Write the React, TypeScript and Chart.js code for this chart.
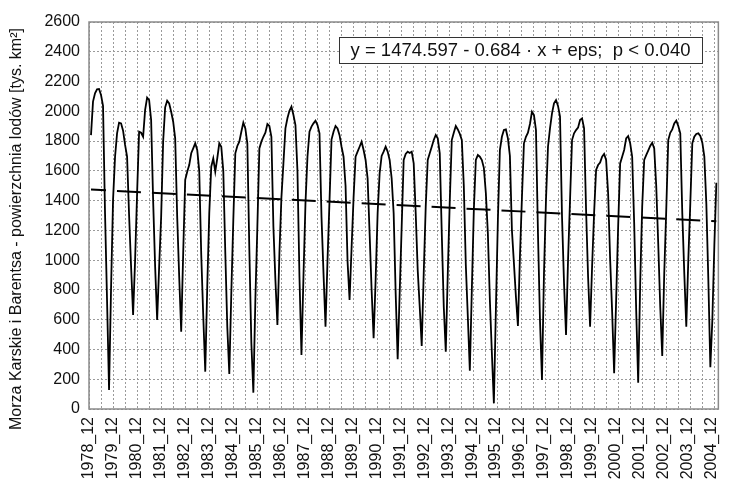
import { useEffect, useRef } from 'react';
import { Chart, registerables } from 'chart.js';

Chart.register(...registerables);

// Ice area [thousand km²], monthly, starting December 1978
const dec1978 = [1840];
const ice1979 = [2065, 2121, 2148, 2150, 2109, 2036, 1315, 732, 128, 808, 1405, 1695];
const ice1980 = [1852, 1924, 1919, 1870, 1774, 1695, 1303, 956, 632, 1000, 1450, 1863];
const ice1981 = [1856, 1829, 2009, 2092, 2076, 1942, 1400, 956, 598, 956, 1292, 1800];
const ice1982 = [2027, 2071, 2053, 1997, 1930, 1818, 1292, 889, 519, 1050, 1540, 1594];
const ice1983 = [1639, 1718, 1751, 1785, 1740, 1600, 1037, 625, 251, 822, 1315, 1628];
const ice1984 = [1684, 1594, 1684, 1785, 1762, 1600, 1050, 550, 235, 777, 1270, 1718];
const ice1985 = [1767, 1796, 1863, 1924, 1885, 1785, 1068, 443, 110, 732, 1225, 1751];
const ice1986 = [1796, 1829, 1856, 1915, 1901, 1829, 1225, 867, 564, 1046, 1420, 1650];
const ice1987 = [1885, 1953, 2003, 2031, 1975, 1908, 1600, 889, 363, 889, 1380, 1695];
const ice1988 = [1863, 1897, 1919, 1937, 1908, 1852, 1290, 911, 553, 1000, 1400, 1810];
const ice1989 = [1863, 1901, 1885, 1840, 1762, 1695, 1500, 990, 732, 1080, 1420, 1695];
const ice1990 = [1729, 1762, 1796, 1740, 1673, 1550, 1180, 800, 475, 866, 1315, 1583];
const ice1991 = [1700, 1729, 1762, 1729, 1673, 1550, 1315, 777, 334, 777, 1225, 1673];
const ice1992 = [1713, 1729, 1720, 1729, 1650, 1315, 933, 687, 423, 911, 1360, 1673];
const ice1993 = [1718, 1762, 1807, 1841, 1818, 1718, 1180, 687, 385, 911, 1400, 1807];
const ice1994 = [1856, 1901, 1878, 1848, 1807, 1500, 967, 620, 257, 800, 1337, 1673];
const ice1995 = [1706, 1695, 1673, 1620, 1450, 1180, 732, 376, 38, 665, 1270, 1740];
const ice1996 = [1829, 1874, 1878, 1818, 1700, 1202, 980, 754, 558, 1023, 1420, 1785];
const ice1997 = [1829, 1856, 1915, 1997, 1975, 1874, 1180, 598, 195, 911, 1405, 1762];
const ice1998 = [1885, 1986, 2054, 2076, 2036, 1964, 1290, 844, 497, 1000, 1405, 1807];
const ice1999 = [1852, 1874, 1890, 1942, 1953, 1885, 1337, 889, 553, 956, 1315, 1606];
const ice2000 = [1639, 1655, 1695, 1713, 1673, 1450, 1008, 654, 240, 732, 1225, 1650];
const ice2001 = [1695, 1740, 1818, 1834, 1785, 1695, 1248, 665, 177, 844, 1360, 1673];
const ice2002 = [1706, 1736, 1767, 1789, 1751, 1500, 1110, 687, 356, 911, 1337, 1807];
const ice2003 = [1856, 1878, 1919, 1937, 1901, 1852, 1315, 911, 553, 1000, 1380, 1785];
const ice2004 = [1829, 1848, 1852, 1834, 1789, 1695, 1380, 866, 280, 600, 1100, 1520];

const tickLabels = [
  '1978_12', '1979_12', '1980_12', '1981_12', '1982_12', '1983_12', '1984_12',
  '1985_12', '1986_12', '1987_12', '1988_12', '1989_12', '1990_12', '1991_12',
  '1992_12', '1993_12', '1994_12', '1995_12', '1996_12', '1997_12', '1998_12',
  '1999_12', '2000_12', '2001_12', '2002_12', '2003_12', '2004_12',
];

const trendMonths = [0, 312];
const trendValues = [1474, 1261];

const equationText = 'y = 1474.597 - 0.684 \u00b7 x + eps;  p < 0.040';
const yTitle = 'Morza Karskie i Barentsa - powierzchnia lod\u00f3w [tys. km\u00b2]';

const FONT = '"Liberation Sans", Arial, Helvetica, sans-serif';

const yearSeries = [
  ice1979, ice1980, ice1981, ice1982, ice1983, ice1984, ice1985, ice1986, ice1987,
  ice1988, ice1989, ice1990, ice1991, ice1992, ice1993, ice1994, ice1995, ice1996,
  ice1997, ice1998, ice1999, ice2000, ice2001, ice2002, ice2003, ice2004,
];
const iceArea = [...dec1978, ...yearSeries.flat()];

const decorPlugin = {
  id: 'decor',
  afterDraw(chart: any) {
    const { ctx, chartArea } = chart;
    const { left, right, top, bottom } = chartArea;
    ctx.save();
    // frame
    ctx.strokeStyle = '#8a8a8a';
    ctx.lineWidth = 1.5;
    ctx.strokeRect(left, top, right - left, bottom - top);
    // equation box
    const bx = 339, by = 37, bw = 363, bh = 26;
    ctx.fillStyle = '#ffffff';
    ctx.fillRect(bx, by, bw, bh);
    ctx.strokeStyle = '#333333';
    ctx.lineWidth = 1;
    ctx.strokeRect(bx + 0.5, by + 0.5, bw, bh);
    ctx.fillStyle = '#111111';
    ctx.font = `18.5px ${FONT}`;
    ctx.textAlign = 'center';
    ctx.textBaseline = 'middle';
    ctx.fillText(equationText, bx + bw / 2, by + bh / 2 + 1);
    // y title
    ctx.translate(17, 229);
    ctx.rotate(-Math.PI / 2);
    ctx.font = `16px ${FONT}`;
    ctx.fillText(yTitle, 0, 0);
    ctx.restore();
  },
};

export default function App() {
  const canvasRef = useRef<HTMLCanvasElement | null>(null);

  useEffect(() => {
    document.body.style.margin = '0';
    const canvas = canvasRef.current;
    if (!canvas) return;
    const seriesPoints = iceArea.map((v, i) => ({ x: i, y: v }));
    const trendPoints = trendMonths.map((m, i) => ({ x: m, y: trendValues[i] }));
    const labelMonths = tickLabels.map((_, i) => i * 12);

    const chart = new Chart(canvas, {
      type: 'line',
      data: {
        datasets: [
          {
            data: seriesPoints,
            borderColor: '#000000',
            borderWidth: 1.8,
            pointRadius: 0,
            tension: 0,
            xAxisID: 'x',
          },
          {
            data: trendPoints,
            borderColor: '#000000',
            borderWidth: 2,
            borderDash: [24, 11],
            borderDashOffset: 9,
            pointRadius: 0,
            xAxisID: 'x',
          },
        ],
      },
      options: {
        animation: false,
        responsive: false,
        events: [],
        layout: { padding: { top: 22, right: 8, left: 0, bottom: 0 } },
        plugins: { legend: { display: false }, tooltip: { enabled: false } },
        scales: {
          x: {
            type: 'linear',
            position: 'bottom',
            weight: 0,
            min: -1,
            max: 313,
            afterBuildTicks: (s: any) => {
              const t = [];
              for (let v = -1; v <= 313; v += 6) t.push({ value: v });
              s.ticks = t;
            },
            afterFit: (s: any) => { s.height = 0; },
            ticks: { display: false },
            grid: { color: '#9a9a9a', lineWidth: 1, drawTicks: false },
            border: { display: false, dash: [2, 2] },
          },
          xl: {
            type: 'linear',
            position: 'bottom',
            weight: 1,
            min: 0,
            max: 315.4,
            afterBuildTicks: (s: any) => {
              s.ticks = labelMonths.map((v) => ({ value: v }));
            },
            afterFit: (s: any) => { s.height = 76; },
            grid: { display: false, drawTicks: false },
            border: { display: false },
            ticks: {
              autoSkip: false,
              minRotation: 90,
              maxRotation: 90,
              padding: 8,
              color: '#111111',
              font: { family: FONT, size: 16 },
              callback: (_v: any, i: number) => tickLabels[i],
            },
          },
          y: {
            min: 0,
            max: 2600,
            afterFit: (s: any) => { s.width = 89; },
            ticks: {
              stepSize: 200,
              padding: 9,
              color: '#111111',
              font: { family: FONT, size: 16 },
              callback: (v: any) => String(v),
            },
            grid: { color: '#9a9a9a', lineWidth: 1, drawTicks: false },
            border: { display: false, dash: [2, 2] },
          },
        },
      },
      plugins: [decorPlugin],
    });
    return () => chart.destroy();
  }, []);

  return (
    <div style={{ position: 'fixed', left: 0, top: 0, width: 739, height: 485, background: '#fff' }}>
      <canvas ref={canvasRef} width={739} height={485} style={{ display: 'block' }} />
    </div>
  );
}
